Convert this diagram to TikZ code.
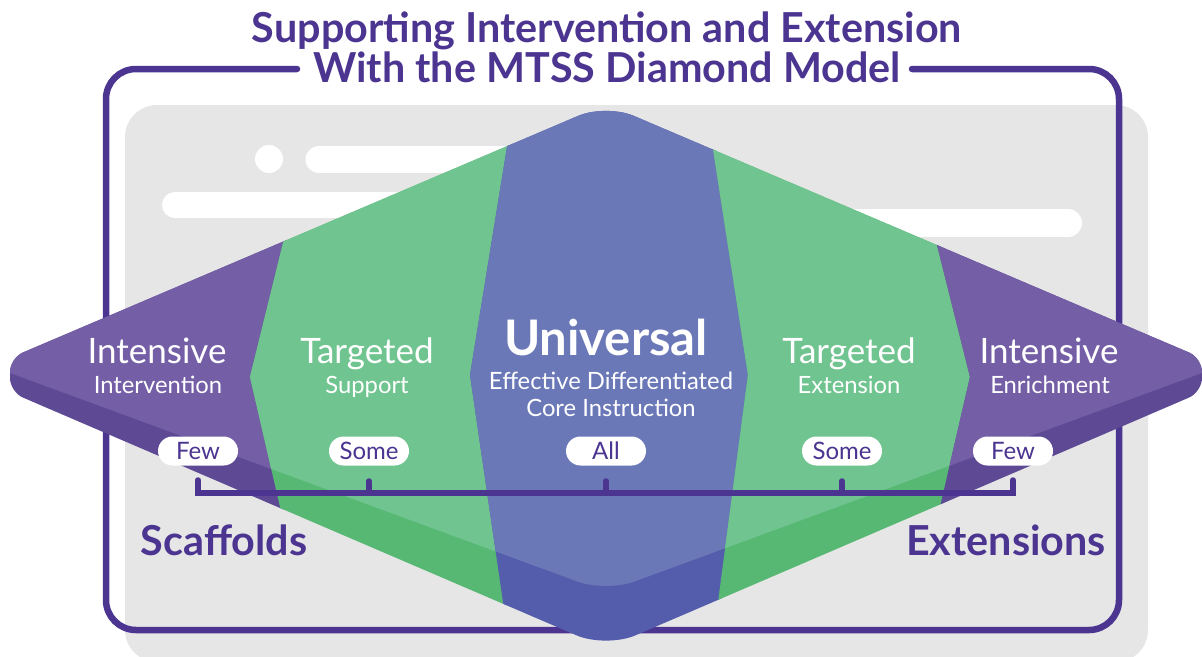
\documentclass[tikz,border=0pt]{standalone}
\usepackage{fontspec}
\setmainfont{Lato}
\usetikzlibrary{calc}
\definecolor{framepurple}{HTML}{4B3591}
\definecolor{bggray}{HTML}{E6E6E6}
\definecolor{purpleface}{HTML}{745EA6}
\definecolor{purpleside}{HTML}{5D4994}
\definecolor{greenface}{HTML}{70C48F}
\definecolor{greenside}{HTML}{57B874}
\definecolor{blueface}{HTML}{6A78B8}
\definecolor{blueside}{HTML}{545DAB}
% corner #2 between #1 and #3, rounded over #4
\newcommand{\rc}[4]{-- ($(#2)!#4!(#1)$) .. controls ($(#2)!0.45*#4!(#1)$) and ($(#2)!0.45*#4!(#3)$) .. ($(#2)!#4!(#3)$)}
\newcommand{\slabpath}{($(sL1)!0.5!(sT)$) \rc{sL1}{sT}{sR1}{30pt} \rc{sT}{sR1}{sR2}{14pt} \rc{sR1}{sR2}{sB}{14pt} \rc{sR2}{sB}{sL2}{32pt} \rc{sB}{sL2}{sL1}{14pt} \rc{sL2}{sL1}{sT}{14pt} -- cycle}
\newcommand{\facepath}{($(fL)!0.5!(sT)$) \rc{fL}{sT}{fR}{30pt} -- (fR) \rc{fR}{fB}{fL}{30pt} -- (fL) -- cycle}
\begin{document}
\begin{tikzpicture}[x=1pt,y=-1pt,
    headlbl/.style={text=white, anchor=base, inner sep=0pt, font=\fontsize{35}{40}\selectfont},
    sublbl/.style={text=white, anchor=base, inner sep=0pt, font=\fontsize{23.8}{26}\selectfont},
    bigtitle/.style={text=framepurple, anchor=base, inner sep=0pt, font=\bfseries\fontsize{41.3}{46}\selectfont},
    pill/.style={fill=white, rounded corners=14.5pt, minimum width=80pt, minimum height=29pt, inner sep=0pt,
      text=framepurple, text height=17pt, text depth=0pt, font=\fontsize{24}{26}\selectfont},
    bracket/.style={framepurple, line width=5.5pt, line cap=round}]
  \useasboundingbox (0,0) rectangle (1202,656);
  \fill[bggray, rounded corners=32pt] (125,105) rectangle (1148,662);
  \fill[white] (269,159) circle[radius=14pt];
  \draw[white, line width=27pt, line cap=round] (319,159.5) -- (650,159.5);
  \draw[white, line width=26pt, line cap=round] (175,205) -- (600,205);
  \draw[white, line width=28pt, line cap=round] (700,223) -- (1068,223);
  \draw[framepurple, line width=6.5pt, line cap=round, rounded corners=30pt]
    (297,69) -- (106,69) -- (106,630) -- (1119,630) -- (1119,69) -- (912,69);
  \node[bigtitle] (title1) at (607,42) {Supporting Intervention and Extension};
  \node[bigtitle] (title2) at (607,82) {With the MTSS Diamond Model};

  \coordinate (sT) at (606,104);
  \coordinate (sR1) at (1202,358);
  \coordinate (sR2) at (1202,392);
  \coordinate (sB) at (606,648);
  \coordinate (sL2) at (10,392);
  \coordinate (sL1) at (10,358);
  \coordinate (fR) at (1221,366);
  \coordinate (fB) at (606,592);
  \coordinate (fL) at (-9,366);
  \coordinate (z1) at (-100,-100); \coordinate (z2) at (-100,374); \coordinate (z3) at (-100,850);
  \coordinate (a1) at (283,243);   \coordinate (a2) at (250,377);  \coordinate (a3) at (280,507);
  \coordinate (b1) at (507,147);   \coordinate (b2) at (470,375);  \coordinate (b3) at (503,602);
  \coordinate (c1) at (713,149);   \coordinate (c2) at (748,375);  \coordinate (c3) at (718,602);
  \coordinate (d1) at (937,245);   \coordinate (d2) at (970,377);  \coordinate (d3) at (940,507);
  \coordinate (e1) at (1300,-100); \coordinate (e2) at (1300,374); \coordinate (e3) at (1300,850);
  \foreach \p/\q/\fc/\dc in {z/a/purpleface/purpleside, a/b/greenface/greenside,
      b/c/blueface/blueside, c/d/greenface/greenside, d/e/purpleface/purpleside}{
    \begin{scope}
      \clip ($(\p2)!4!(\p1)$) -- (\p2) -- ($(\p2)!4!(\p3)$)
        -- ($(\q2)!4!(\q3)+(3,0)$) -- ($(\q2)+(3,0)$) -- ($(\q2)!4!(\q1)+(3,0)$) -- cycle;
      \clip \slabpath;
      \fill[\dc] (-100,-100) rectangle (1300,800);
      \fill[\fc] \facepath;
    \end{scope}
  }

  \node[headlbl] (int1) at (157,363) {Intensive};
  \node[sublbl] (int1sub) at (158,393) {Intervention};
  \node[headlbl] (tar1) at (367,363) {Targeted};
  \node[sublbl] (tar1sub) at (367,393) {Support};
  \node[headlbl, font=\bfseries\fontsize{49}{56}\selectfont] (uni) at (606,355) {Universal};
  \node[sublbl] (uni1sub) at (611,389) {Effective Differentiated};
  \node[sublbl] (uni2sub) at (611,416) {Core Instruction};
  \node[headlbl] (tar2) at (849,363) {Targeted};
  \node[sublbl] (tar2sub) at (849,393) {Extension};
  \node[headlbl] (int2) at (1049,363) {Intensive};
  \node[sublbl] (int2sub) at (1050,393) {Enrichment};

  \node[pill] (few1) at (198,451) {Few};
  \node[pill] (some1) at (369,451) {Some};
  \node[pill] (all) at (606,451) {All};
  \node[pill] (some2) at (842,451) {Some};
  \node[pill] (few2) at (1013,451) {Few};

  \path (few1) ++(0,42) coordinate (bl);
  \path (few2) ++(0,42) coordinate (br);
  \draw[bracket] ([yshift=13pt]bl) -- (bl) -- (br) -- ([yshift=13pt]br);
  \foreach \n in {some1,all,some2}
    \draw[bracket] (\n |- bl) -- ++(0,-12);

  \node[bigtitle] (scaf) at (224,555) {Scaffolds};
  \node[bigtitle] (ext) at (1006,555) {Extensions};
\end{tikzpicture}
\end{document}
